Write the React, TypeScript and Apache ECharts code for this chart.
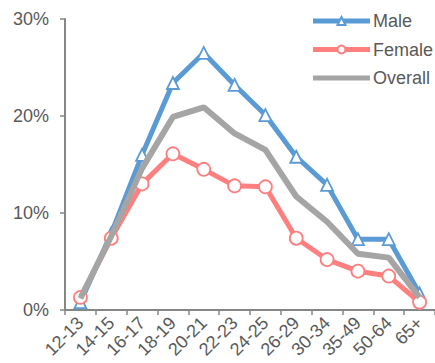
import React, { useEffect, useRef } from "react";
import * as echarts from "echarts";

const ageGroups = ["12-13", "14-15", "16-17", "18-19", "20-21", "22-23", "24-25", "26-29", "30-34", "35-49", "50-64", "65+"];
const maleShare = [0.8, 7.9, 16.0, 23.4, 26.5, 23.2, 20.1, 15.8, 12.9, 7.3, 7.3, 1.7];
const femaleShare = [1.3, 7.4, 13.0, 16.1, 14.5, 12.8, 12.7, 7.4, 5.2, 4.0, 3.5, 0.8];
const overallShare = [1.2, 7.6, 14.6, 19.9, 20.9, 18.2, 16.5, 11.7, 9.1, 5.8, 5.4, 1.3];
const percentTicks = [0, 10, 20, 30];

const FONT = "'Liberation Sans', Arial, sans-serif";
const TEXT = "#595959";
const AXIS = "#868686";

export default function App() {
  const ref = useRef<HTMLDivElement>(null);

  useEffect(() => {
    if (!ref.current) return;
    const chart = echarts.init(ref.current, undefined, { renderer: "svg" });
    chart.setOption({
      animation: false,
      textStyle: { fontFamily: FONT },
      grid: { left: 65, right: -8, top: 19, bottom: 53, containLabel: false },
      legend: {
        data: ["Male", "Female", { name: "Overall", itemStyle: { opacity: 0 } }],
        orient: "vertical",
        right: -3,
        top: 7,
        itemWidth: 57,
        itemHeight: 10,
        itemGap: 10.5,
        lineStyle: { width: 5 },
        textStyle: { fontSize: 18, color: TEXT, fontFamily: FONT, lineHeight: 14, padding: [0, 0, 0, -2] },
      },
      xAxis: {
        type: "category",
        data: ageGroups,
        boundaryGap: true,
        axisLine: { lineStyle: { color: AXIS, width: 2 } },
        axisTick: { show: true, length: 5, alignWithLabel: false, lineStyle: { color: AXIS, width: 1.5 } },
        axisLabel: { rotate: 45, fontSize: 18, color: TEXT, fontFamily: FONT, margin: 10, interval: 0 },
      },
      yAxis: {
        type: "value",
        min: percentTicks[0],
        max: percentTicks[percentTicks.length - 1],
        interval: 10,
        splitLine: { show: false },
        axisLine: { show: true, lineStyle: { color: AXIS, width: 2 } },
        axisTick: { show: true, length: 5, lineStyle: { color: AXIS, width: 1.5 } },
        axisLabel: { fontSize: 18, color: TEXT, fontFamily: FONT, margin: 16, formatter: "{value}%" },
      },
      series: [
        {
          name: "Male",
          type: "line",
          data: maleShare,
          symbol: "triangle",
          symbolSize: 12,
          showAllSymbol: true,
          lineStyle: { color: "#5B9BD5", width: 5 },
          itemStyle: { color: "#FFFFFF", borderColor: "#5B9BD5", borderWidth: 1.8 },
          z: 2,
        },
        {
          name: "Female",
          type: "line",
          data: femaleShare,
          symbol: "circle",
          symbolSize: 13,
          showAllSymbol: true,
          lineStyle: { color: "#FF7F7F", width: 5 },
          itemStyle: { color: "#FFFFFF", borderColor: "#FF7F7F", borderWidth: 1.8 },
          z: 3,
        },
        {
          name: "Overall",
          type: "line",
          data: overallShare,
          symbol: "none",
          lineStyle: { color: "#A5A5A5", width: 6 },
          itemStyle: { color: "#A5A5A5" },
          z: 4,
        },
      ],
    });
    return () => chart.dispose();
  }, []);

  return <div ref={ref} style={{ position: "absolute", left: 0, top: 0, width: 435, height: 363 }} />;
}
